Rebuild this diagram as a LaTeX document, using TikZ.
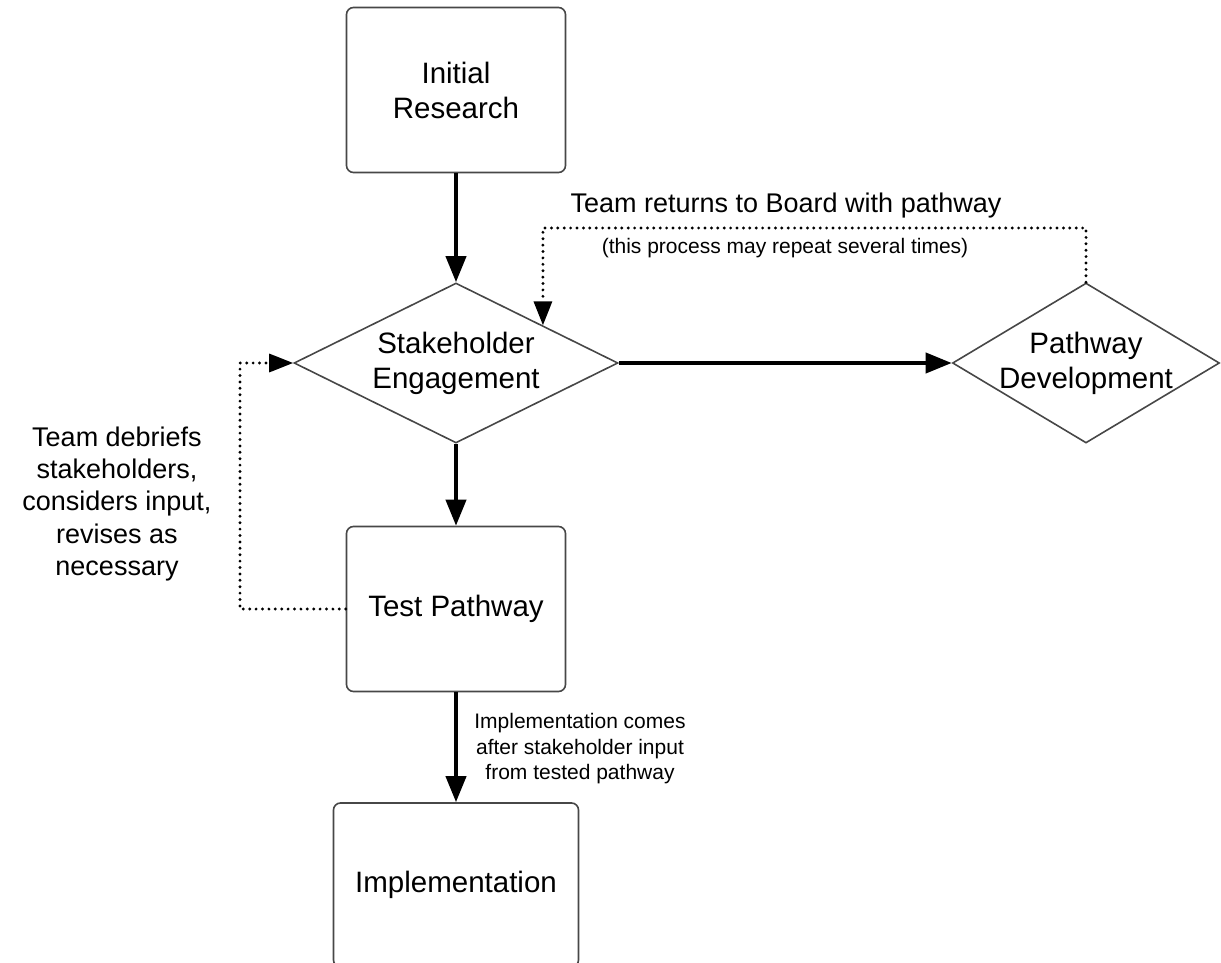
\documentclass[tikz,border=0pt]{standalone}
\usepackage{fontspec}
\setmainfont{Liberation Sans}
\usetikzlibrary{shapes.geometric,arrows.meta,calc}

\begin{document}
\begin{tikzpicture}[x=1pt,y=-1pt]
            \tikzstyle{every node}+=[inner sep=0pt]
            \tikzstyle{stepbox}=[draw=black!72,line width=1.6pt,rounded corners=7pt,minimum width=219pt,minimum height=165pt,align=center,font=\fontsize{29.5}{35}\selectfont]
            \tikzstyle{choice}=[draw=black!72,line width=1.6pt,diamond,aspect=1.67,inner sep=-15pt,align=center,font=\fontsize{29.5}{35}\selectfont]
            \tikzstyle{flow}=[line width=4pt,-{Triangle[length=26pt,width=20pt]}]
            \tikzstyle{backline}=[line width=3.2pt,line cap=round,dash pattern=on 0pt off 6.4pt,-{Triangle[length=24pt,width=18pt]}]
                \useasboundingbox (0,0) rectangle (1221,963);
                % boxes and decisions
                \node [stepbox] (init) at (456,90) {Initial\\Research};
                \node [choice,minimum width=324pt,minimum height=160pt] (stake) at (456,363) {Stakeholder\\Engagement};
                \node [choice,minimum width=267pt,minimum height=160pt] (path) at (1086,363) {Pathway\\Development};
                \node [stepbox] (test) at (456,609) {Test Pathway};
                \node [stepbox,minimum width=245pt,minimum height=164pt] (impl) at (456,885) {Implementation};
                % labels
                \node [font=\fontsize{27}{32}\selectfont] (retlbl) at (786,206) {Team returns to Board with pathway};
                \node [font=\fontsize{21}{25}\selectfont] (replbl) at (785,248) {(this process may repeat several times)};
                \node [align=center,font=\fontsize{27}{32.3}\selectfont] (debrief) at (117,504) {Team debriefs\\stakeholders,\\considers input,\\revises as\\necessary};
                \node [align=center,font=\fontsize{21}{25.5}\selectfont] (impllbl) at (580,749) {Implementation comes\\after stakeholder input\\from tested pathway};
                % helper points
                \coordinate (rt) at ($(stake.north)!0.534!(stake.east)$);
                \coordinate (topc) at (800,228);
                \coordinate (leftc) at (240,490);
                % connectors
                \draw [flow] (init.south) -- (stake.north);
                \draw [flow] (stake.east) -- (path.west);
                \draw [flow] (stake.south) -- (test.north);
                \draw [flow] (test.south) -- (impl.north);
                \draw [backline] (path.north) |- (topc) -| (rt);
                \draw [backline] (test.west) -| (leftc) |- (stake.west);
            \end{tikzpicture}
\end{document}
